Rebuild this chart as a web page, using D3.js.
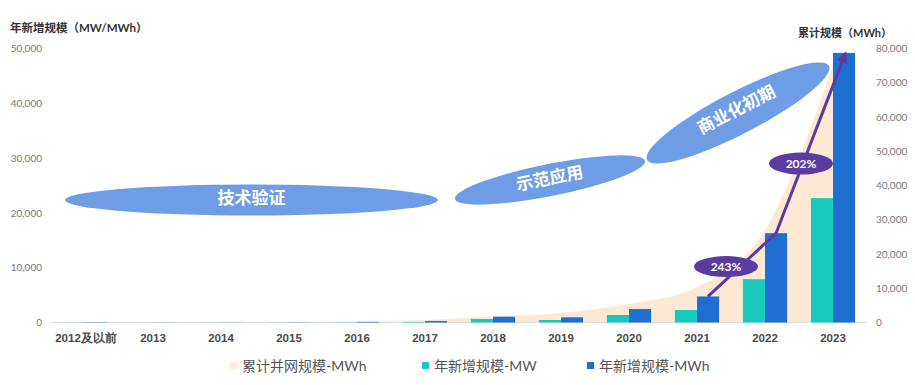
<!DOCTYPE html>
<html><head><meta charset="utf-8">
<script src="https://cdn.jsdelivr.net/npm/d3@7/dist/d3.min.js"></script>
<style>
body{margin:0;background:#fff;}
svg{display:block;font-family:Lato,"Noto Sans CJK SC",sans-serif;}
</style>
</head><body>
<svg id="chart" width="915" height="385"></svg>
<script>
// ---- data ----
const categories = ["2012及以前","2013","2014","2015","2016","2017","2018","2019","2020","2021","2022","2023"];
const newMW = [20,10,15,20,40,100,640,460,1370,2280,7900,22700];
const newMWh = [60,30,30,40,110,280,1060,950,2460,4750,16300,49200];
const cumulativeMWh = [100,150,200,250,400,700,1800,2800,5400,10300,27000,75000];
const leftTicks = [0,10000,20000,30000,40000,50000];
const rightTicks = [0,10000,20000,30000,40000,50000,60000,70000,80000];
const growthLabels = ["243%","202%"];
const growthLabelValues = [10200,29000];
const stageLabels = ["技术验证","示范应用","商业化初期"];
const legendLabels = ["累计并网规模-MWh","年新增规模-MW","年新增规模-MWh"];
const leftTitle = "年新增规模（MW/MWh）";
const rightTitle = "累计规模（MWh）";

// ---- styles ----
const C = {area:"#fde9d3", teal:"#19c9bd", blue:"#1f6fd1", ell:"#6e9de5", purple:"#5a3b9f"};

const svg = d3.select("#chart");
const x = d3.scaleBand().domain(categories).range([51,867]).paddingInner(0.35).paddingOuter(0.175);
const xs = d3.scaleBand().domain(["MW","MWh"]).range([0,x.bandwidth()]);
const yL = d3.scaleLinear().domain([0,50000]).range([322.5,48.5]);
const yR = d3.scaleLinear().domain([0,80000]).range([322.5,48.5]);
const cx = c => x(c) + x.bandwidth()/2;

// defs
const defs = svg.append("defs");
defs.append("marker").attr("id","arr").attr("viewBox","0 0 10 10").attr("refX",5).attr("refY",5)
  .attr("markerWidth",4).attr("markerHeight",4).attr("orient","auto")
  .append("path").attr("d","M0,0 L10,5 L0,10 z").attr("fill",C.purple);

// area
const area = d3.area().x((d,i)=>cx(categories[i])).y0(yR(0)).y1(d=>yR(d)).curve(d3.curveMonotoneX);
svg.append("path").datum(cumulativeMWh).attr("d",area).attr("fill",C.area);

// zero line
svg.append("line").attr("x1",51).attr("x2",867).attr("y1",yL(0)).attr("y2",yL(0)).attr("stroke","#dcdcdc").attr("stroke-width",1);

// bars
const g = svg.append("g");
categories.forEach((c,i)=>{
  g.append("rect").attr("x",x(c)+xs("MW")).attr("width",xs.bandwidth()).attr("y",yL(newMW[i])).attr("height",yL(0)-yL(newMW[i])).attr("fill",C.teal);
  g.append("rect").attr("x",x(c)+xs("MWh")).attr("width",xs.bandwidth()).attr("y",yL(newMWh[i])).attr("height",yL(0)-yL(newMWh[i])).attr("fill",C.blue);
});

// left axis
const axL = svg.append("g").attr("transform","translate(42,0)")
  .call(d3.axisLeft(yL).tickValues(leftTicks).tickSize(0).tickPadding(0).tickFormat(d3.format(",")));
axL.select(".domain").remove();
axL.selectAll("text").attr("font-size",10).attr("fill","#777").attr("font-family","Lato,sans-serif");
// right axis
const axR = svg.append("g").attr("transform","translate(876,0)")
  .call(d3.axisRight(yR).tickValues(rightTicks).tickSize(0).tickPadding(0).tickFormat(d3.format(",")));
axR.select(".domain").remove();
axR.selectAll("text").attr("font-size",10).attr("fill","#777").attr("font-family","Lato,sans-serif");
// x axis
const axX = svg.append("g").attr("transform",`translate(0,${yL(0)})`)
  .call(d3.axisBottom(x).tickSize(0).tickPadding(11));
axX.select(".domain").remove();
axX.selectAll("text").attr("font-size",11.5).attr("font-weight","bold").attr("fill","#4a4a4a");
axX.selectAll(".tick").filter((d,i)=>i===0).select("text").attr("dx",1);

// titles
svg.append("text").attr("x",10).attr("y",32).attr("font-size",11.5).attr("font-weight","bold").attr("fill","#333").text(leftTitle);
svg.append("text").attr("x",798).attr("y",37).attr("font-size",11).attr("font-weight","bold").attr("fill","#333").text(rightTitle);

// stage ellipses (layout annotations)
const stageGeom = [
  {x1:65,y1:200,x2:438,y2:200,ry:15.5},
  {x1:455,y1:199,x2:645,y2:161,ry:16},
  {x1:647,y1:160,x2:829,y2:66,ry:21}
];
stageGeom.forEach((s,i)=>{
  const mx=(s.x1+s.x2)/2, my=(s.y1+s.y2)/2;
  const ang=Math.atan2(s.y2-s.y1,s.x2-s.x1)*180/Math.PI;
  const rx=Math.hypot(s.x2-s.x1,s.y2-s.y1)/2;
  const gg=svg.append("g").attr("transform",`translate(${mx},${my}) rotate(${ang})`);
  gg.append("ellipse").attr("rx",rx).attr("ry",s.ry).attr("fill",C.ell);
  gg.append("text").attr("text-anchor","middle").attr("dy","0.36em").attr("y",i===2?-4:-2)
    .attr("font-size",17).attr("font-weight","bold").attr("fill","#fff")
    .attr("font-family","'Noto Sans CJK SC',sans-serif").text(stageLabels[i]);
});

// growth arrow through last three MWh bar tops
const idx=[9,10,11];
const pts = idx.map(i=>[x(categories[i])+xs("MWh")+xs.bandwidth()/2, yL(newMWh[i])]);
pts[2][1]+=4;
svg.append("path").attr("d",d3.line()(pts)).attr("fill","none").attr("stroke",C.purple)
  .attr("stroke-width",3).attr("marker-end","url(#arr)");

// growth labels
growthLabels.forEach((t,k)=>{
  const a=cx(categories[9+k]), b=cx(categories[10+k]);
  const px=(a+b)/2 + (k===0?-5:2), py=yL(growthLabelValues[k]);
  svg.append("ellipse").attr("cx",px).attr("cy",py).attr("rx",32).attr("ry",k===0?10.5:11).attr("fill",C.purple);
  svg.append("text").attr("x",px).attr("y",py).attr("dy","0.36em").attr("text-anchor","middle")
    .attr("font-size",12).attr("font-weight","bold").attr("fill","#fff").text(t);
});

// legend
const legX=[230,422,587], legCols=["#fdebd6",C.teal,C.blue];
legendLabels.forEach((t,i)=>{
  svg.append("rect").attr("x",legX[i]).attr("y",362).attr("width",7).attr("height",7).attr("fill",legCols[i]);
  svg.append("text").attr("x",legX[i]+12).attr("y",366).attr("dy","0.36em").attr("font-size",14)
    .attr("fill","#555").text(t);
});
</script>
</body></html>
